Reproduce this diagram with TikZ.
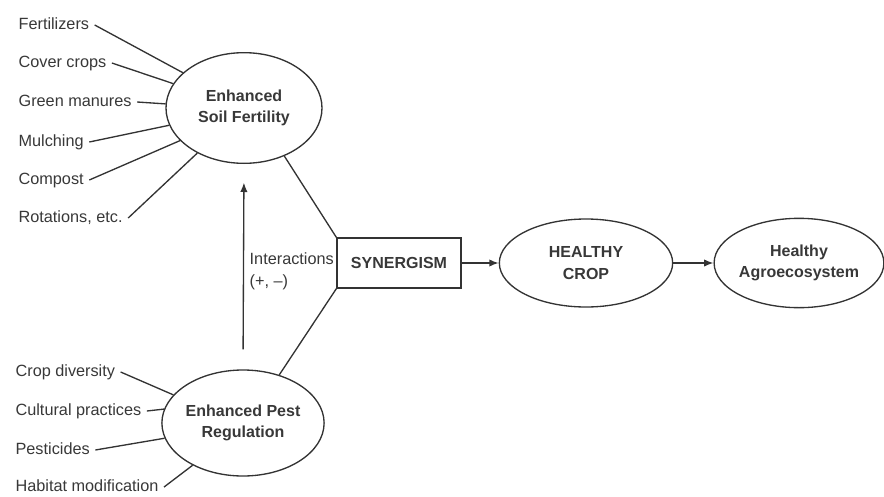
\documentclass[tikz,border=0pt]{standalone}
\usepackage{fontspec}
\setmainfont{Liberation Sans}
\usepackage{tikz}
\usetikzlibrary{arrows.meta,shapes.geometric}
\definecolor{inkc}{HTML}{333333}
\definecolor{textc}{HTML}{383838}

\begin{document}
\begin{tikzpicture}[x=0.75pt,y=-0.75pt,font=\fontsize{12.2}{14}\selectfont,
  practice/.style={anchor=west,text=textc,inner sep=4pt,text height=8.8pt,text depth=2.6pt},
  goal/.style={ellipse,draw=inkc,line width=1pt,inner sep=0pt,align=center,
               font=\fontsize{12}{16}\selectfont\bfseries,text=textc},
  link/.style={draw=inkc,line width=1pt},
  flow/.style={link,-{Latex[length=7pt,width=5.5pt]}},
]
\useasboundingbox (0,0) rectangle (884,496);

% main nodes
\node[goal,minimum width=117pt,minimum height=83pt] (soil) at (244,108) {Enhanced\\Soil Fertility};
\node[goal,minimum width=118.5pt,minimum height=79.5pt] (pest) at (243,423) {Enhanced Pest\\Regulation};
\node[draw=inkc,line width=1pt,minimum width=93pt,minimum height=37.5pt,
      font=\fontsize{12}{14}\selectfont\bfseries,text=textc] (syn) at (399,263) {SYNERGISM};
\node[goal,minimum width=130pt,minimum height=66pt] (crop) at (586,263) {HEALTHY\\CROP};
\node[goal,minimum width=126pt,minimum height=67pt] (agro) at (799,263) {Healthy\\Agroecosystem};

% soil practices
\node[practice] (fert) at (13,25) {Fertilizers};
\node[practice] (cover) at (13,63) {Cover crops};
\node[practice] (green) at (13,102) {Green manures};
\node[practice] (mulch) at (13,142) {Mulching};
\node[practice] (compost) at (13,180) {Compost};
\node[practice] (rotat) at (13,218) {Rotations, etc.};

% pest practices
\node[practice] (divers) at (10,372) {Crop diversity};
\node[practice] (cultur) at (10,411) {Cultural practices};
\node[practice] (pestic) at (10,450) {Pesticides};
\node[practice] (habit) at (10,487) {Habitat modification};

\node[anchor=west,align=left,text=textc,font=\fontsize{12.2}{16.5}\selectfont] (inter) at (245,271)
  {Interactions\\(+, –)};

\draw[link] (fert.east) -- (soil.150);
\draw[link] (cover.east) -- (soil.161);
\draw[link] (green.east) -- (soil.177);
\draw[link] (mulch.east) -- (soil.193);
\draw[link] (compost.east) -- (soil.207);
\draw[link] (rotat.east) -- (soil.224);

\draw[link] (divers.east) -- (pest.158);
\draw[link] (cultur.east) -- (pest.170);
\draw[link] (pestic.east) -- (pest.191);
\draw[link] (habit.east) -- (pest.220);

\draw[link] (soil.310) -- (syn.north west);
\draw[link] (pest.53) -- (syn.south west);
\draw[flow,shorten <=15pt,shorten >=14pt] (pest.north) -- (soil.south);
\draw[flow] (syn.east) -- (crop.west);
\draw[flow] (crop.east) -- (agro.west);
\end{tikzpicture}
\end{document}
